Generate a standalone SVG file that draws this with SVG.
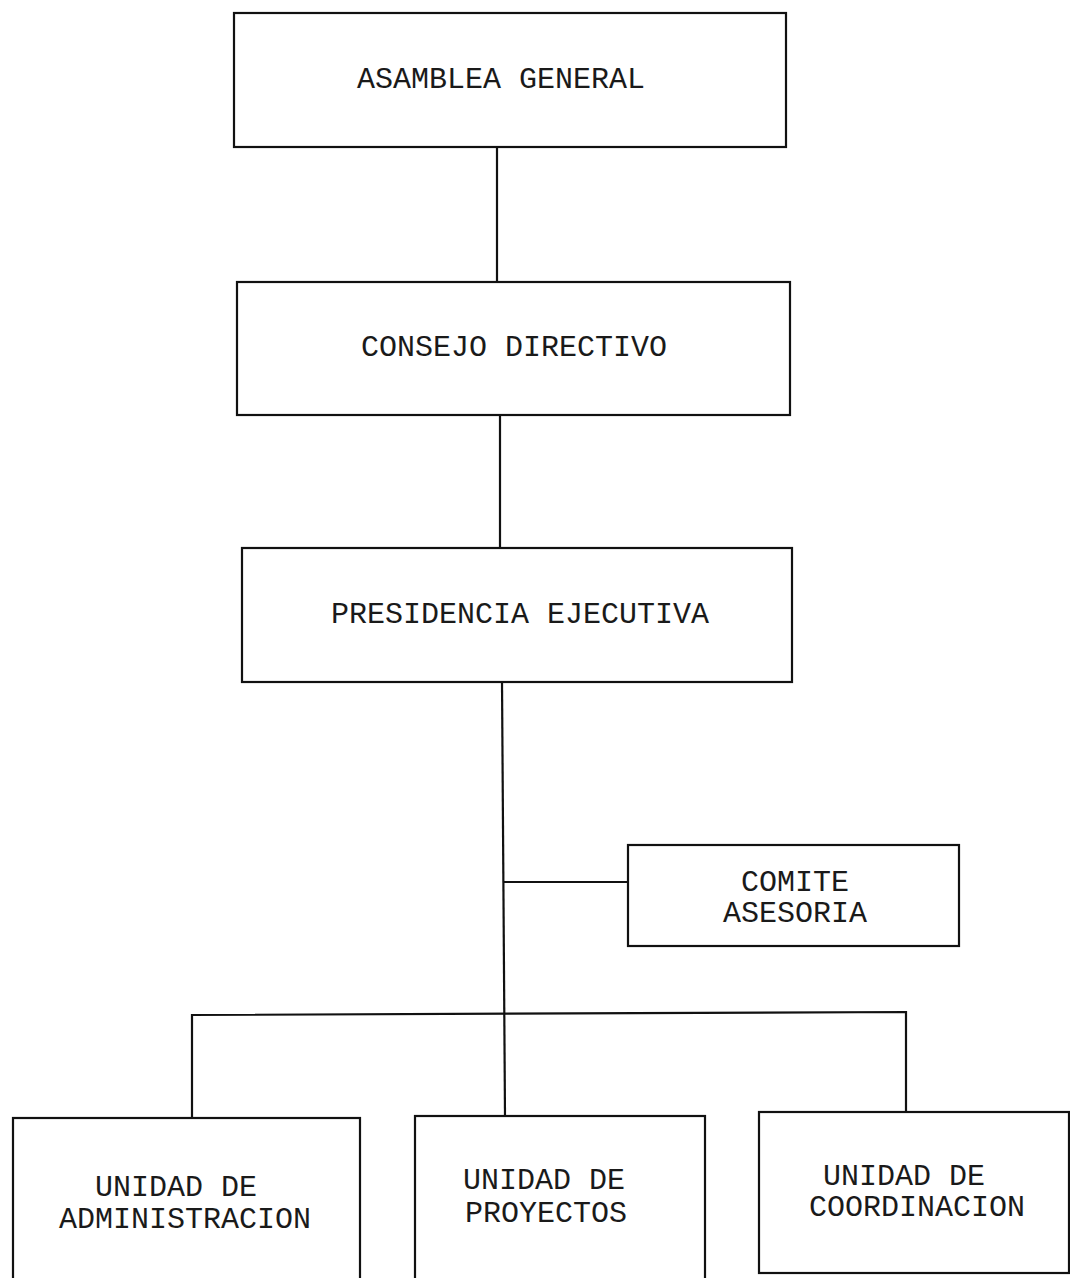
<svg xmlns="http://www.w3.org/2000/svg" width="1070" height="1278" viewBox="0 0 1070 1278">
<style>
.box{fill:#fff;stroke:#111;stroke-width:2.2}
.ln{stroke:#111;stroke-width:2.2;fill:none}
text{font-family:"Liberation Mono","Courier New",monospace;font-size:30px;fill:#1a1a1a;text-anchor:middle}
</style>
<rect width="1070" height="1278" fill="#fff"/>
<g id="connectors">
<line class="ln" x1="497" y1="147" x2="497" y2="282"/>
<line class="ln" x1="500" y1="415" x2="500" y2="548"/>
<line class="ln" x1="502" y1="682" x2="505" y2="1116"/>
<line class="ln" x1="503" y1="882" x2="628" y2="882"/>
<polyline class="ln" points="192,1118 192,1015 906,1012 906,1112"/>
</g>
<g id="asamblea"><rect class="box" x="234" y="13" width="552" height="134"/><text x="501" y="88">ASAMBLEA GENERAL</text></g>
<g id="consejo"><rect class="box" x="237" y="282" width="553" height="133"/><text x="514" y="356">CONSEJO DIRECTIVO</text></g>
<g id="presidencia"><rect class="box" x="242" y="548" width="550" height="134"/><text x="520" y="623">PRESIDENCIA EJECUTIVA</text></g>
<g id="comite"><rect class="box" x="628" y="845" width="331" height="101"/><text x="795" y="891">COMITE</text><text x="795" y="922">ASESORIA</text></g>
<g id="administracion"><rect class="box" x="13" y="1118" width="347" height="170"/><text x="176" y="1196">UNIDAD DE</text><text x="185" y="1228">ADMINISTRACION</text></g>
<g id="proyectos"><rect class="box" x="415" y="1116" width="290" height="172"/><text x="544" y="1189">UNIDAD DE</text><text x="546" y="1222">PROYECTOS</text></g>
<g id="coordinacion"><rect class="box" x="759" y="1112" width="310" height="161"/><text x="904" y="1185">UNIDAD DE</text><text x="917" y="1216">COORDINACION</text></g>
</svg>
